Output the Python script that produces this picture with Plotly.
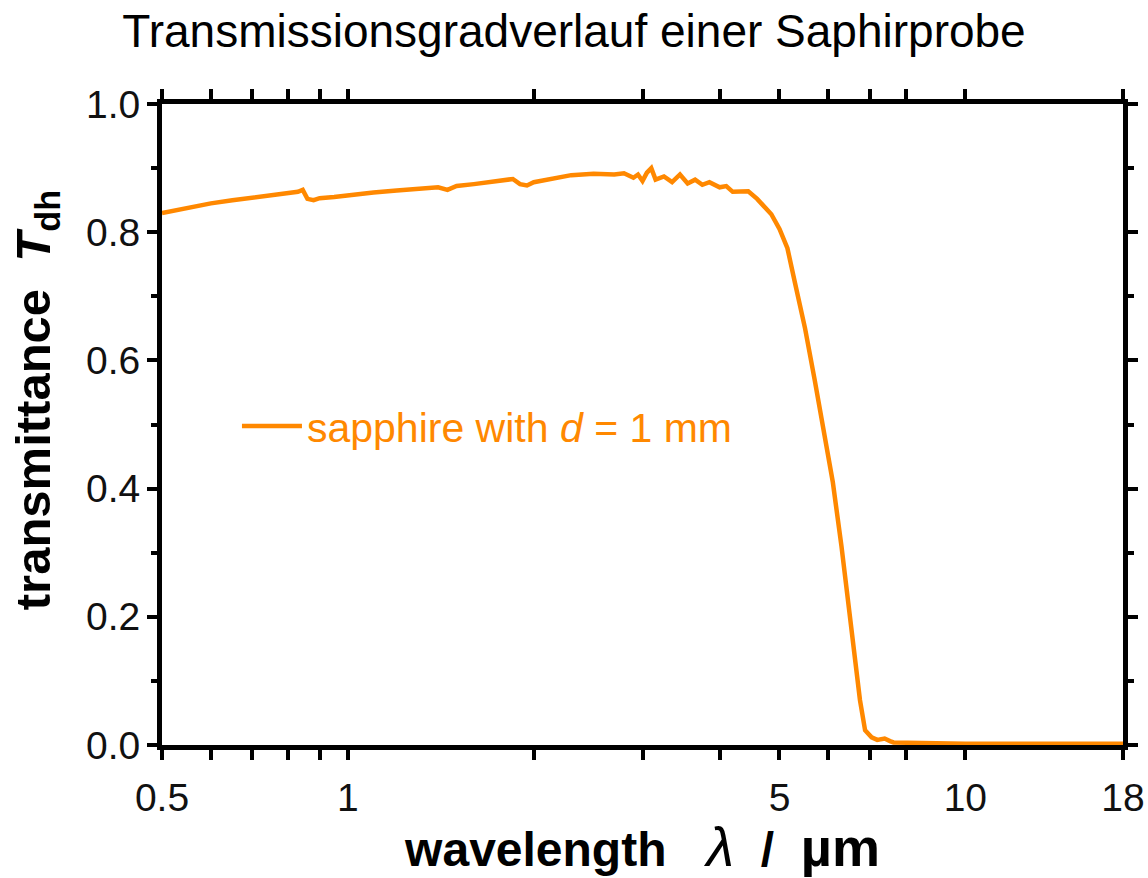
import plotly.graph_objects as go

# wavelength in micrometres and transmittance
wavelength = [0.50, 0.55, 0.60, 0.65, 0.70, 0.75, 0.80, 0.83, 0.845, 0.86, 0.88, 0.90, 0.95,
              1.00, 1.10, 1.20, 1.30, 1.40, 1.45, 1.50, 1.60, 1.70, 1.80, 1.85, 1.90, 1.95,
              2.00, 2.10, 2.20, 2.30, 2.50, 2.70, 2.80, 2.90, 2.95, 3.00, 3.05, 3.10, 3.15,
              3.25, 3.35, 3.45, 3.55, 3.65, 3.75, 3.85, 4.00, 4.10, 4.20, 4.30, 4.45, 4.60,
              4.75, 4.85, 5.00, 5.15, 5.30, 5.50, 5.70, 5.90, 6.10, 6.30, 6.45, 6.60, 6.75,
              6.88, 7.05, 7.20, 7.40, 7.55, 7.65, 8.50, 10.0, 14.0, 18.0]
transmittance = [0.830, 0.838, 0.845, 0.850, 0.854, 0.857, 0.860, 0.863, 0.866, 0.852, 0.850, 0.853, 0.855,
                 0.858, 0.862, 0.865, 0.867, 0.870, 0.866, 0.872, 0.875, 0.878, 0.882, 0.883, 0.875, 0.873,
                 0.878, 0.882, 0.886, 0.889, 0.891, 0.890, 0.892, 0.885, 0.890, 0.880, 0.893, 0.900, 0.882,
                 0.887, 0.878, 0.890, 0.876, 0.882, 0.874, 0.878, 0.870, 0.872, 0.863, 0.864, 0.864, 0.852,
                 0.838, 0.828, 0.805, 0.775, 0.720, 0.650, 0.570, 0.490, 0.410, 0.310, 0.226, 0.150, 0.070,
                 0.023, 0.012, 0.008, 0.010, 0.006, 0.004, 0.003, 0.002, 0.002, 0.002]

x_tickvals = [0.5, 0.6, 0.7, 0.8, 0.9, 1, 2, 3, 4, 5, 6, 7, 8, 10, 18]
x_ticktext = ["0.5", "", "", "", "", "1", "", "", "", "5", "", "", "", "10", "18"]
y_tickvals = [0.0, 0.2, 0.4, 0.6, 0.8, 1.0]
y_ticktext = ["0.0", "0.2", "0.4", "0.6", "0.8", "1.0"]

series_name = "sapphire with <i>d</i> = 1 mm"
title_text = "Transmissionsgradverlauf einer Saphirprobe"
x_title = ("<b>wavelength</b>   <span style='font-size:56px'><i>λ</i></span>"
           "  <b>/</b>  <b><span style='font-size:54px'>µm</span></b>")
y_title = "<b>transmittance  <i>T</i><sub>dh</sub></b>"

ORANGE = "#ff8800"
FONT = "Liberation Sans, Arial, sans-serif"

fig = go.Figure()
fig.add_trace(go.Scatter(
    x=wavelength, y=transmittance, mode="lines", name=series_name,
    line=dict(color=ORANGE, width=4.5),
))

fig.update_layout(
    width=1148, height=878,
    paper_bgcolor="white", plot_bgcolor="white",
    margin=dict(l=162, r=25, t=104, b=133, autoexpand=False),
    font=dict(family=FONT, color="black"),
    title=dict(text=title_text, x=0.5, xref="container", xanchor="center",
               y=1 - 15 / 878, yref="container", yanchor="top",
               font=dict(size=46, color="black", family=FONT)),
    showlegend=True,
    legend=dict(x=0.078, y=0.497, xanchor="left", yanchor="middle",
                bgcolor="rgba(0,0,0,0)", borderwidth=0,
                font=dict(size=41, color=ORANGE, family=FONT),
                itemwidth=60),
)

fig.add_annotation(
    text=y_title, textangle=-90, showarrow=False,
    xref="paper", yref="paper", x=-0.131, y=0.538,
    xanchor="center", yanchor="middle",
    font=dict(size=49, color="black", family=FONT),
)

fig.update_xaxes(
    type="log", range=[-0.30103, 1.25527],
    tickvals=x_tickvals, ticktext=x_ticktext,
    ticks="outside", ticklen=10, tickwidth=4, tickcolor="black",
    showline=True, linewidth=5, linecolor="black", mirror="allticks",
    showgrid=False, zeroline=False,
    tickfont=dict(size=39, color="#111111", family=FONT),
    ticklabelstandoff=4,
    title=dict(text=x_title, font=dict(size=48, color="black", family=FONT), standoff=12),
    automargin=False,
)
fig.update_yaxes(
    range=[0, 1],
    tickvals=y_tickvals, ticktext=y_ticktext,
    ticks="outside", ticklen=10, tickwidth=4, tickcolor="black",
    minor=dict(tickvals=[0.1, 0.3, 0.5, 0.7, 0.9], ticks="outside", ticklen=6,
               tickwidth=4, tickcolor="black", showgrid=False),
    showline=True, linewidth=5, linecolor="black", mirror="allticks",
    showgrid=False, zeroline=False,
    tickfont=dict(size=39, color="#111111", family=FONT),
    ticklabelstandoff=-1,
    automargin=False,
)

fig.write_html("out.html", config={"displayModeBar": False},
               post_script="document.body.style.margin='0';")
